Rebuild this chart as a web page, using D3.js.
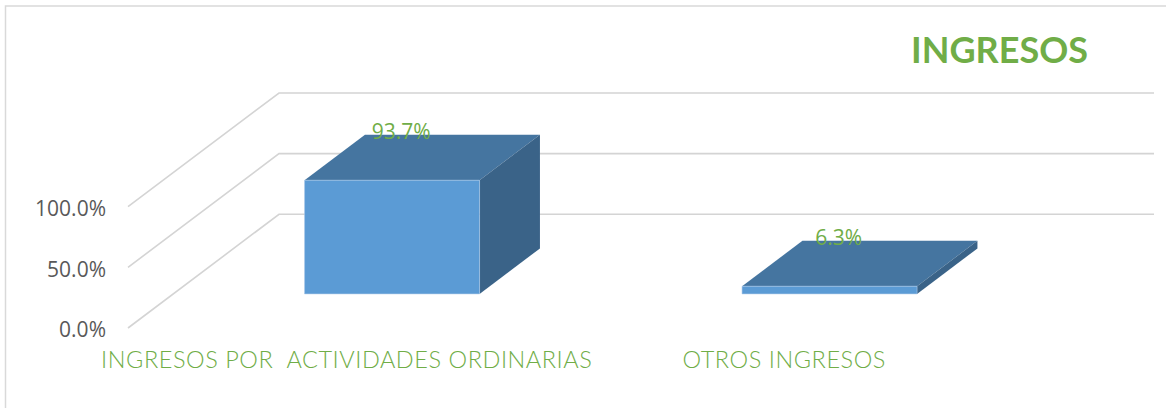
<!DOCTYPE html>
<html>
<head>
<meta charset="utf-8">
<script src="https://cdn.jsdelivr.net/npm/d3@7"></script>
<style>
  body { margin: 0; background: #fff; }
  svg { display: block; }
</style>
</head>
<body>
<div id="chart"></div>
<script>
var categories = ["INGRESOS POR  ACTIVIDADES ORDINARIAS", "OTROS INGRESOS"];
var values = [0.937, 0.063];
var tickValues = [0, 0.5, 1];
var chartTitle = "INGRESOS";

var width = 1166, height = 408;

var svg = d3.select("#chart").append("svg")
    .attr("width", width)
    .attr("height", height);

// chart area border
svg.append("rect")
    .attr("x", 5.5).attr("y", 6)
    .attr("width", 1200).attr("height", 500)
    .attr("fill", "none")
    .attr("stroke", "#d9d9d9")
    .attr("stroke-width", 1.5);

// front plane scales, depth vector goes to the back wall
var xScale = d3.scaleBand()
    .domain(categories)
    .range([128, 1003]);

var yScale = d3.scaleLinear()
    .domain([0, 1])
    .range([328, 206.7]);

var depthX = 151, depthY = -113.7;

function project(x, v, d) {
  return [x + d * depthX, yScale(v) + d * depthY];
}

var fmt = d3.format(".1%");

// gridlines: left wall diagonal + back wall horizontal
var grid = svg.append("g").attr("class", "grid");
grid.selectAll("polyline")
    .data(tickValues)
    .enter().append("polyline")
    .attr("points", function(t) {
      var x0 = xScale.range()[0], x1 = xScale.range()[1];
      return [[x0, yScale(t)], project(x0, t, 1), project(x1, t, 1)].map(p => p.join(",")).join(" ");
    })
    .attr("fill", "none")
    .attr("stroke", "#d4d4d4")
    .attr("stroke-width", 1.6);

// y tick labels
svg.append("g").selectAll("text")
    .data(tickValues)
    .enter().append("text")
    .attr("x", 106)
    .attr("y", t => yScale(t) + 9.3)
    .attr("text-anchor", "end")
    .attr("fill", "#595959")
    .style("font-family", "'Open Sans', sans-serif")
    .style("font-size", "21px")
    .text(t => fmt(t));

// 3d bars
var bw = xScale.bandwidth();
var d0 = 0.3, d1 = 0.7;
var data = categories.map((c, i) => ({cat: c, value: values[i]}));

function poly(pts) {
  return pts.map(p => p.join(",")).join(" ");
}

var bars = svg.append("g").selectAll("g.bar")
    .data(data)
    .enter().append("g")
    .attr("class", "bar");

bars.each(function(d) {
  var g = d3.select(this);
  var x0 = xScale(d.cat) + bw * 0.3;
  var x1 = x0 + bw * 0.4;
  var v = d.value;
  // top
  g.append("polygon")
      .attr("points", poly([project(x0, v, d0), project(x1, v, d0), project(x1, v, d1), project(x0, v, d1)]))
      .attr("fill", "#4575a0");
  // right side
  g.append("polygon")
      .attr("points", poly([project(x1, 0, d0), project(x1, 0, d1), project(x1, v, d1), project(x1, v, d0)]))
      .attr("fill", "#3a6388");
  // front
  g.append("polygon")
      .attr("points", poly([project(x0, 0, d0), project(x1, 0, d0), project(x1, v, d0), project(x0, v, d0)]))
      .attr("fill", "#5b9bd5")
      .attr("stroke", "#a9c8e8")
      .attr("stroke-width", 0.6);
});

// data labels
svg.append("g").selectAll("text")
    .data(data)
    .enter().append("text")
    .attr("x", d => project(xScale(d.cat) + bw / 2, d.value, 0.36)[0])
    .attr("y", d => project(xScale(d.cat) + bw / 2, d.value, 0.36)[1] - 34)
    .attr("text-anchor", "middle")
    .attr("fill", "#70ad47")
    .style("font-family", "'Open Sans', sans-serif")
    .style("font-size", "21px")
    .text(d => fmt(d.value));

// category labels
svg.append("g").selectAll("text")
    .data(categories)
    .enter().append("text")
    .attr("x", c => xScale(c) + bw / 2)
    .attr("y", 368)
    .attr("text-anchor", "middle")
    .attr("fill", "#70ad47")
    .style("font-family", "Lato, sans-serif")
    .style("font-weight", 300)
    .style("font-size", "23.5px")
    .style("letter-spacing", "0.55px")
    .style("white-space", "pre")
    .text(c => c);

// title
svg.append("text")
    .attr("x", 1088)
    .attr("y", 63.3)
    .attr("text-anchor", "end")
    .attr("fill", "#70ad47")
    .style("font-family", "Lato, sans-serif")
    .style("font-weight", "bold")
    .style("font-size", "36px")
    .text(chartTitle);
</script>
</body>
</html>
